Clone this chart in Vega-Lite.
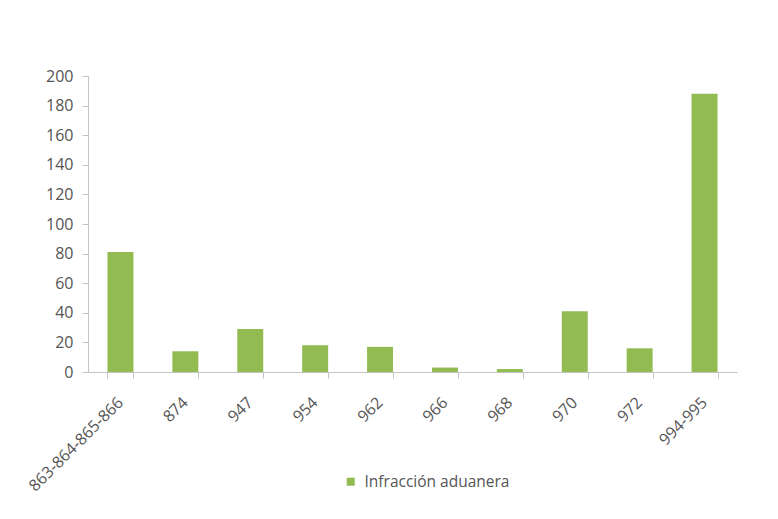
{
  "$schema": "https://vega.github.io/schema/vega-lite/v6.json",
  "autosize": "none",
  "width": 649,
  "height": 296,
  "padding": {"left": 88, "top": 76, "right": 41, "bottom": 147},
  "background": "#ffffff",
  "data": {
    "values": [
      {"codigo": "863-864-865-866", "serie": "Infracción aduanera", "valor": 81},
      {"codigo": "874", "serie": "Infracción aduanera", "valor": 14},
      {"codigo": "947", "serie": "Infracción aduanera", "valor": 29},
      {"codigo": "954", "serie": "Infracción aduanera", "valor": 18},
      {"codigo": "962", "serie": "Infracción aduanera", "valor": 17},
      {"codigo": "966", "serie": "Infracción aduanera", "valor": 3},
      {"codigo": "968", "serie": "Infracción aduanera", "valor": 2},
      {"codigo": "970", "serie": "Infracción aduanera", "valor": 41},
      {"codigo": "972", "serie": "Infracción aduanera", "valor": 16},
      {"codigo": "994-995", "serie": "Infracción aduanera", "valor": 188}
    ]
  },
  "mark": {"type": "bar"},
  "encoding": {
    "x": {
      "field": "codigo",
      "type": "nominal",
      "sort": null,
      "title": null,
      "scale": {"paddingInner": 0.6, "paddingOuter": 0.3},
      "axis": {
        "labelAngle": -45,
        "tickBand": "extent",
        "tickSize": 6,
        "labelPadding": 16,
        "labelOffset": -6
      }
    },
    "y": {
      "field": "valor",
      "type": "quantitative",
      "title": null,
      "scale": {"domain": [0, 200], "nice": false},
      "axis": {"values": [0, 20, 40, 60, 80, 100, 120, 140, 160, 180, 200], "grid": false, "tickSize": 6, "labelPadding": 9}
    },
    "color": {
      "field": "serie",
      "type": "nominal",
      "title": null,
      "scale": {"range": ["#92bb52"]},
      "legend": {
        "orient": "none",
        "legendX": 255,
        "legendY": 398,
        "symbolType": "square",
        "symbolSize": 64,
        "labelFontSize": 15.5,
        "labelOffset": 6
      }
    }
  },
  "config": {
    "font": "Open Sans",
    "view": {"stroke": null},
    "axis": {
      "domainColor": "#c4c4c4",
      "tickColor": "#c4c4c4",
      "labelColor": "#555555",
      "labelFontSize": 16,
      "labelFont": "Open Sans"
    },
    "legend": {"labelColor": "#555555", "labelFont": "Open Sans"}
  }
}
